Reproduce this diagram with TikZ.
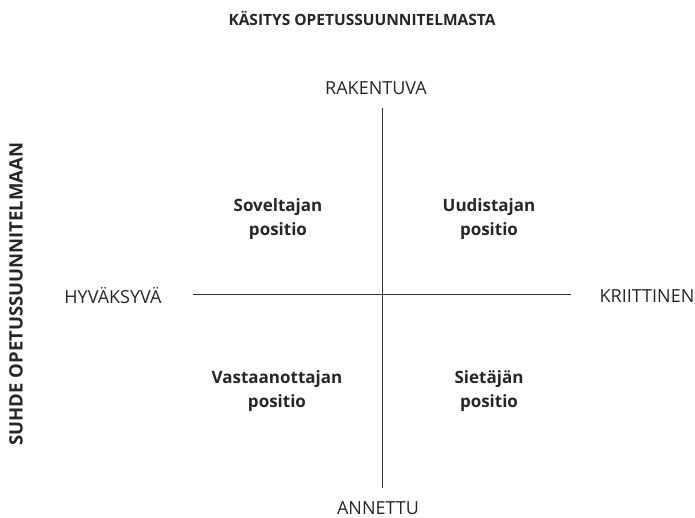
\documentclass[tikz,border=0pt]{standalone}
\usepackage{fontspec}
\setmainfont{Open Sans}
\begin{document}
\begin{tikzpicture}[x=1pt,y=-1pt,
  axislabel/.style={font=\fontsize{18}{21}\selectfont, text=black!85, inner sep=1pt},
  title/.style={font=\bfseries\fontsize{15.5}{19}\selectfont, text=black!85},
  vtitle/.style={font=\bfseries\fontsize{18.5}{22}\selectfont, text=black!85},
  quad/.style={font=\bfseries\fontsize{17}{24}\selectfont, align=center, text=black!85},
  axis/.style={draw=black!80, line width=1pt}]
\useasboundingbox (0,0) rectangle (695,518);
\node[title] (t) at (362,18) {KÄSITYS OPETUSSUUNNITELMASTA};
\node[vtitle, rotate=90] (s) at (16,294) {SUHDE OPETUSSUUNNITELMAAN};
\node[axislabel] (r) at (376,88) {RAKENTUVA};
\node[axislabel] (a) at (378,508) {ANNETTU};
\node[axislabel] (h) at (113,296) {HYVÄKSYVÄ};
\node[axislabel] (k) at (647,296) {KRIITTINEN};
\coordinate (vt) at (382,108);
\coordinate (vb) at (382,488);
\coordinate (hl) at (193,294);
\coordinate (hr) at (571,294);
\draw[axis] (vt) -- (vb);
\draw[axis] (hl) -- (hr);
\node[quad] (q1) at (278,219) {Soveltajan\\positio};
\node[quad] (q2) at (489,219) {Uudistajan\\positio};
\node[quad] (q3) at (277,391) {Vastaanottajan\\positio};
\node[quad] (q4) at (489,391) {Sietäjän\\positio};
\end{tikzpicture}
\end{document}
